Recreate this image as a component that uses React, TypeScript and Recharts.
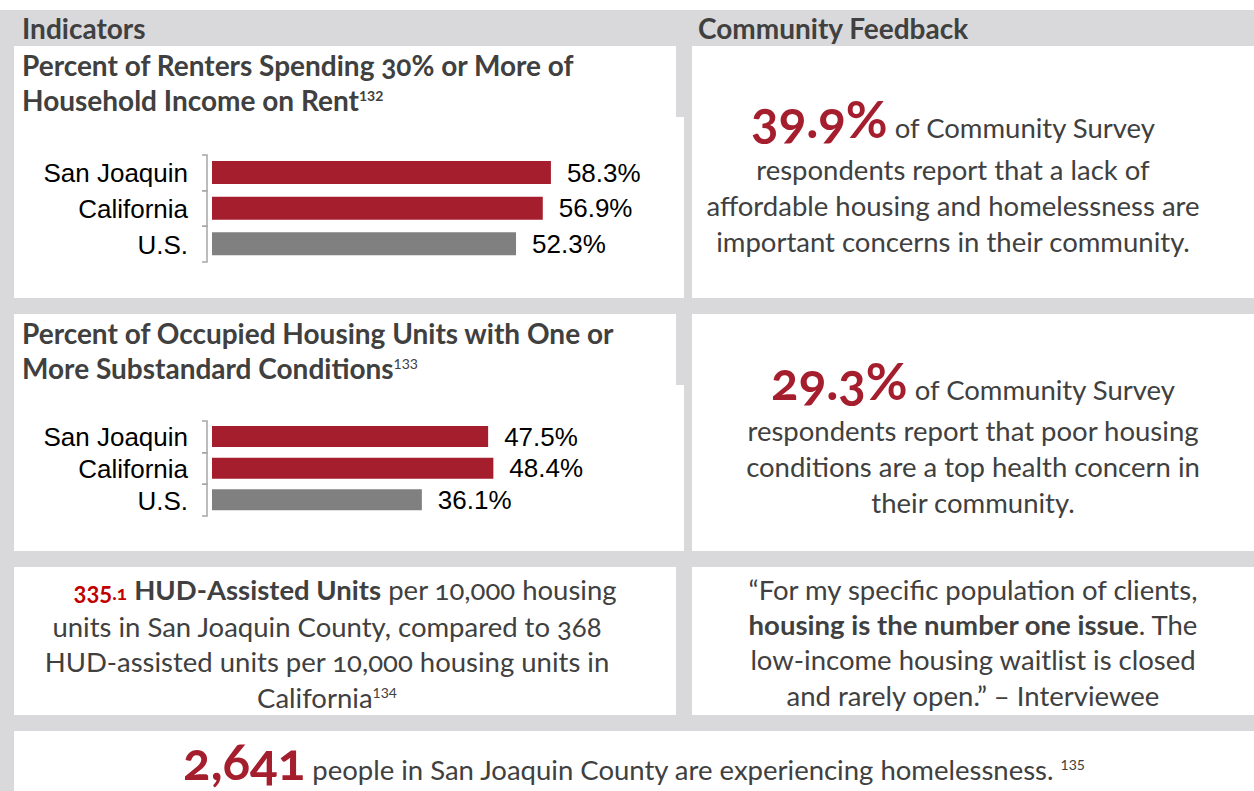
import React from "react";
import {BarChart, Bar, XAxis, YAxis, Cell, LabelList} from "recharts";

const categories = ["San Joaquin", "California", "U.S."];
const rentBurden = [58.3, 56.9, 52.3];
const substandard = [47.5, 48.4, 36.1];
const barColors = ["#a51e2e", "#a51e2e", "#808080"];

const RED = "#a51e2e";
const TEXT = "#404040";
const GRAY_BG = "#d9d9db";
const FONT = "Lato, 'Open Sans', sans-serif";
const CHART_FONT = "'Liberation Sans', Arial, sans-serif";

const BracketTick = (props: any) => {
  const {x, y, payload, band} = props;
  const bx = x - 5;
  return (
    <g>
      <path
        d={`M${bx - 5},${y - band / 2}H${bx}V${y + band / 2}H${bx - 5}`}
        stroke='#a6a6a6'
        strokeWidth={1.5}
        fill='none'
      />
      <text
        x={x - 24}
        y={y}
        dy='0.36em'
        textAnchor='end'
        fill='#000'
        style={{fontFamily: CHART_FONT, fontSize: 26, fontVariantNumeric: "normal"}}
      >
        {payload.value}
      </text>
    </g>
  );
};

interface HBarProps {
  values: number[];
  top: number;
  height: number;
  marginTop: number;
  marginBottom: number;
  barSize: number;
}

const HBarChart = ({values, top, height, marginTop, marginBottom, barSize}: HBarProps) => {
  const data = categories.map((name, i) => ({name, value: values[i]}));
  const band = (height - marginTop - marginBottom) / categories.length;
  return (
    <div style={{position: "absolute", left: 14, top, fontVariantNumeric: "normal"}}>
      <BarChart
        width={660}
        height={height}
        data={data}
        layout='vertical'
        margin={{top: marginTop, bottom: marginBottom, left: 0, right: 26}}
      >
        <XAxis type='number' domain={[0, 75]} hide />
        <YAxis
          type='category'
          dataKey='name'
          width={198}
          axisLine={false}
          tickLine={false}
          tickSize={0}
          tickMargin={0}
          interval={0}
          tick={(p: any) => <BracketTick {...p} band={band} />}
        />
        <Bar dataKey='value' barSize={barSize} isAnimationActive={false}>
          {data.map((d, i) => (
            <Cell key={d.name} fill={barColors[i]} />
          ))}
          <LabelList
            dataKey='value'
            position='right'
            offset={16}
            formatter={(v: any) => `${Number(v).toFixed(1)}%`}
            style={{fontFamily: CHART_FONT, fontSize: 26, fill: "#000"}}
          />
        </Bar>
      </BarChart>
    </div>
  );
};

const Box = ({x, y, w, h}: {x: number; y: number; w: number; h: number}) => (
  <div style={{position: "absolute", left: x, top: y, width: w, height: h, background: "#fff"}} />
);

const Line = ({y, x, w, align = "left", size = 27.5, bold = false, children}: any) => (
  <div
    style={{
      position: "absolute",
      left: x,
      top: y - 18,
      width: w,
      height: 36,
      lineHeight: "36px",
      textAlign: align,
      fontSize: size,
      fontWeight: bold ? 700 : 400,
      color: TEXT,
      whiteSpace: "nowrap",
    }}
  >
    {children}
  </div>
);

const Big = ({children, size = 51}: any) => (
  <span style={{color: RED, fontWeight: 700, fontSize: size, lineHeight: 0}}>{children}</span>
);

const Sup = ({children, bold = false}: any) => (
  <span
    style={{
      fontSize: 14,
      verticalAlign: "10px",
      lineHeight: 0,
      fontWeight: bold ? 700 : 400,
      fontVariantNumeric: "lining-nums",
    }}
  >
    {children}
  </span>
);

const App = () => {
  return (
    <div
      style={{
        position: "absolute",
        left: 0,
        top: 0,
        width: 1254,
        height: 791,
        background: "#fff",
        overflow: "hidden",
        fontFamily: FONT,
        fontVariantNumeric: "oldstyle-nums",
      }}
    >
      <div style={{position: "absolute", left: 0, top: 10, width: 1254, height: 781, background: GRAY_BG}} />

      {/* white panels */}
      <Box x={14} y={46} w={662} h={252} />
      <Box x={676} y={117} w={8} h={181} />
      <Box x={692} y={46} w={562} h={252} />
      <Box x={14} y={314} w={662} h={237} />
      <Box x={676} y={385} w={8} h={166} />
      <Box x={692} y={314} w={562} h={237} />
      <Box x={14} y={567} w={662} h={148} />
      <Box x={692} y={567} w={562} h={148} />
      <Box x={14} y={731} w={1240} h={60} />

      <Line y={28} x={22} w={400} size={28} bold>Indicators</Line>
      <Line y={28} x={698} w={400} size={28} bold>Community Feedback</Line>

      <Line y={65} x={22} w={650} size={28} bold>Percent of Renters Spending 30% or More of</Line>
      <Line y={100} x={22} w={650} size={28} bold>
        Household Income on Rent<Sup bold>132</Sup>
      </Line>

      <HBarChart values={rentBurden} top={140} height={140} marginTop={15} marginBottom={18} barSize={23} />

      <Line y={333} x={22} w={650} size={28} bold>Percent of Occupied Housing Units with One or</Line>
      <Line y={368} x={22} w={650} size={28} bold>
        More Substandard Conditions<Sup>133</Sup>
      </Line>

      <HBarChart values={substandard} top={405} height={130} marginTop={16} marginBottom={19} barSize={21} />

      {/* community feedback 1 */}
      <Line y={128} x={692} w={522} align='center'>
        <Big>39.9%</Big> of Community Survey
      </Line>
      <Line y={170} x={692} w={522} align='center'>respondents report that a lack of</Line>
      <Line y={206} x={692} w={522} align='center'>affordable housing and homelessness are</Line>
      <Line y={242} x={692} w={522} align='center'>important concerns in their community.</Line>

      {/* community feedback 2 */}
      <Line y={390} x={692} w={562} align='center'>
        <Big>29.3%</Big> of Community Survey
      </Line>
      <Line y={431} x={692} w={562} align='center'>respondents report that poor housing</Line>
      <Line y={467} x={692} w={562} align='center'>conditions are a top health concern in</Line>
      <Line y={503} x={692} w={562} align='center'>their community.</Line>

      {/* HUD */}
      <Line y={590} x={14} w={662} align='center'>
        <span style={{color: "#c00000", fontWeight: 700, fontSize: 24}}>335</span>
        <span style={{color: "#c00000", fontWeight: 700, fontSize: 19}}>.1</span> <b>HUD-Assisted Units</b> per 10,000 housing
      </Line>
      <Line y={627} x={14} w={626} align='center'>units in San Joaquin County, compared to 368</Line>
      <Line y={662} x={14} w={626} align='center'>HUD-assisted units per 10,000 housing units in</Line>
      <Line y={698} x={14} w={626} align='center'>
        California<Sup>134</Sup>
      </Line>

      {/* quote */}
      <Line y={590} x={692} w={562} align='center'>“For my specific population of clients,</Line>
      <Line y={625} x={692} w={562} align='center'>
        <b>housing is the number one issue</b>. The
      </Line>
      <Line y={660} x={692} w={562} align='center'>low-income housing waitlist is closed</Line>
      <Line y={696} x={692} w={562} align='center'>and rarely open.” – Interviewee</Line>

      {/* bottom */}
      <Line y={770} x={14} w={1240} align='center'>
        <Big>2,641</Big> people in San Joaquin County are experiencing homelessness. <Sup>135</Sup>
      </Line>
    </div>
  );
};

export default App;
